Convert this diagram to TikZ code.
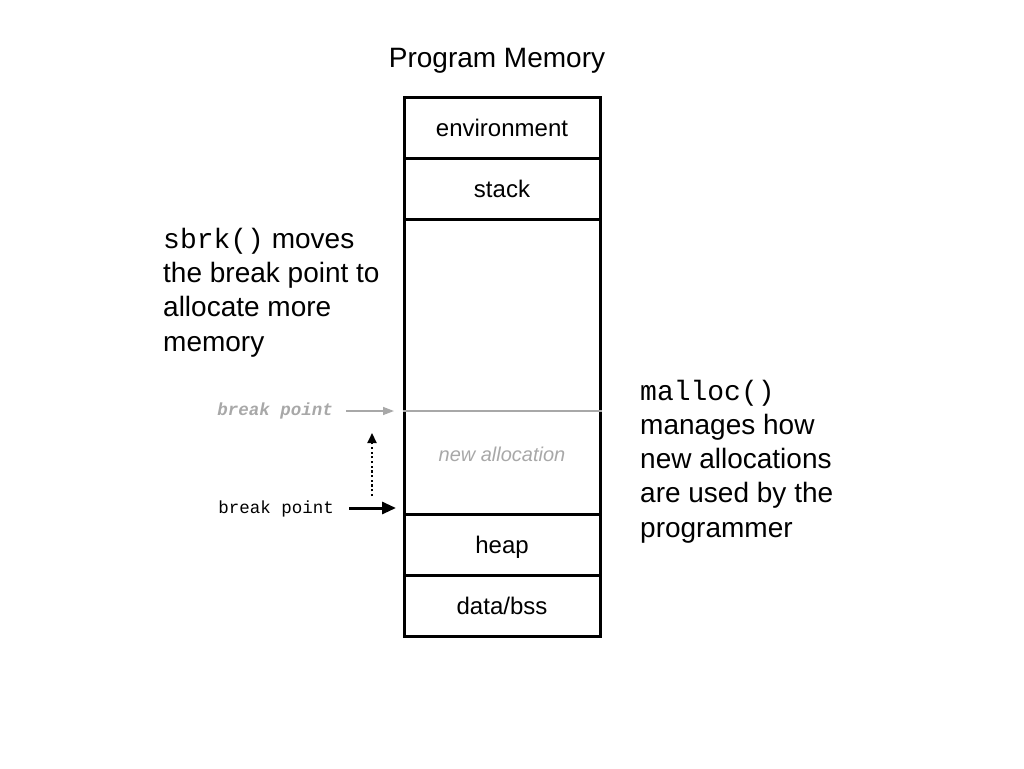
\documentclass[tikz,border=0pt]{standalone}
\usepackage{fontspec}
\setmainfont{Liberation Sans}
\setmonofont{Liberation Mono}
\usetikzlibrary{arrows.meta}
\definecolor{lightgrey}{RGB}{168,168,168}

\begin{document}
\begin{tikzpicture}[x=1pt,y=-1pt,
    seg/.style={draw,line width=3pt,minimum width=196pt,inner sep=0pt,
      text height=17pt,text depth=0pt,font=\fontsize{24}{28}\selectfont},
    blurb/.style={align=left,anchor=base west,inner sep=0pt,
      font=\fontsize{28}{34.2}\selectfont},
    bplabel/.style={anchor=east,inner sep=0pt,font=\fontsize{17.5}{20}\ttfamily}]
  \useasboundingbox (0,0) rectangle (1024,768);
  \node[anchor=base,inner sep=0pt,font=\fontsize{28}{32}\selectfont] (title) at (497,67) {Program Memory};
  % memory column, top to bottom
  \node[seg,minimum height=61pt]  (env)   at (502,127.5) {environment};
  \node[seg,minimum height=61pt]  (stack) at (502,188.5) {stack};
  \node[seg,minimum height=295pt] (free)  at (502,366.5) {};
  \node[seg,minimum height=61pt]  (heap)  at (502,544.5) {heap};
  \node[seg,minimum height=61pt]  (data)  at (502,605.5) {data/bss};
  % new break point inside the free region
  \draw[lightgrey,line width=1.5pt] (free.west |- 0,411) -- (free.east |- 0,411);
  \node[text=lightgrey,font=\fontsize{20}{24}\itshape] (newalloc) at (502,454) {new allocation};
  % break point labels and arrows
  \coordinate (newmark) at (394,411);
  \coordinate (oldmark) at (396,508);
  \node[bplabel,text=lightgrey,font=\fontsize{17.5}{20}\ttfamily\bfseries\itshape] (newbp) at (333,411) {break point};
  \node[bplabel] (oldbp) at (334,509) {break point};
  \draw[lightgrey,line width=1.4pt,-{Triangle[length=11pt,width=8pt]},shorten <=13pt] (newbp.east) -- (newmark);
  \draw[line width=3pt,-{Triangle[length=14pt,width=12pt]},shorten <=15pt] (oldbp.east |- oldmark) -- (oldmark);
  \coordinate (dotlo) at (372,496);
  \coordinate (dothi) at (372,433);
  \draw[line width=2.2pt,dash pattern=on 2.2pt off 2.5pt,-{Triangle[length=10pt,width=9pt]}] (dotlo) -- (dothi);
  % explanations
  \node[blurb] (sbrk) at (163,351) {\texttt{sbrk()} moves\\the break point to\\allocate more\\memory};
  \node[blurb] (malloc) at (640,537) {\texttt{malloc()}\\manages how\\new allocations\\are used by the\\programmer};
\end{tikzpicture}
\end{document}
